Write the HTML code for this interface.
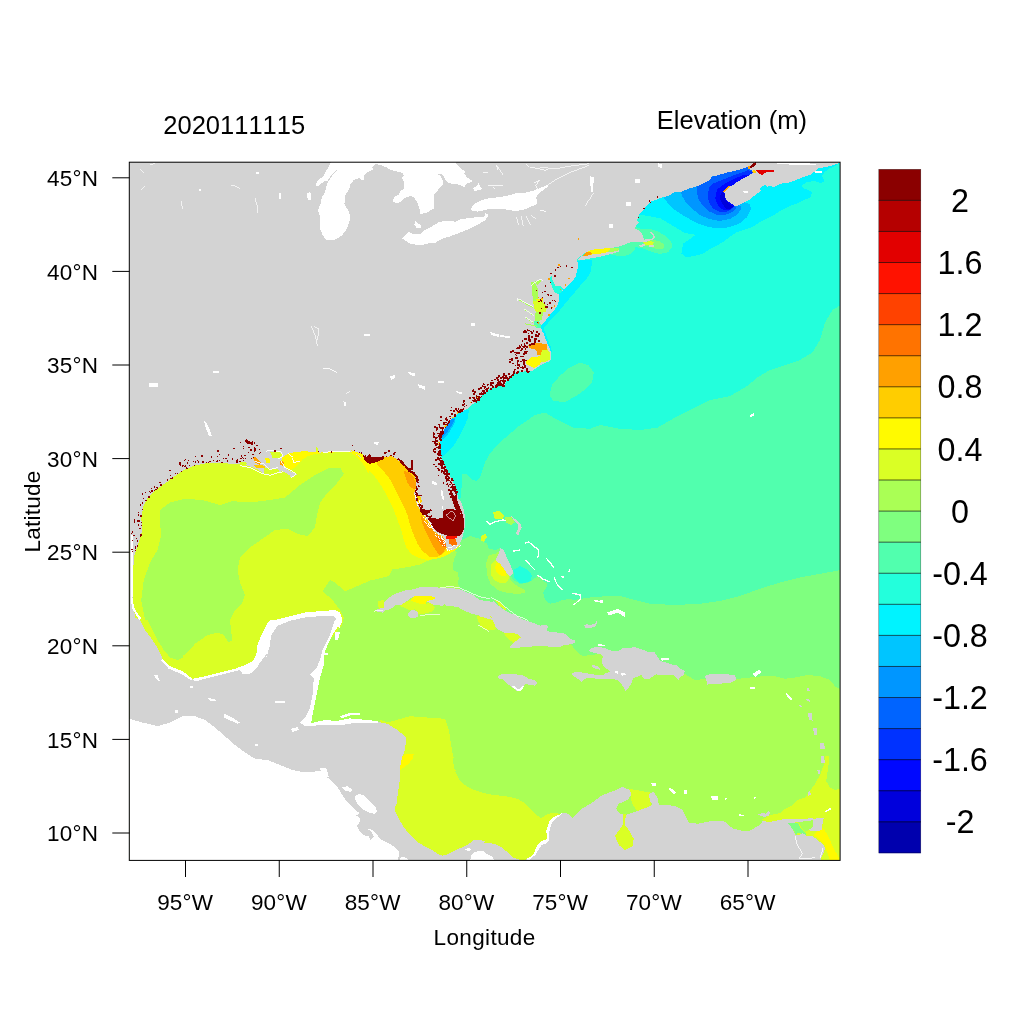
<!DOCTYPE html><html><head><meta charset="utf-8"><title>Elevation</title><style>html,body{margin:0;padding:0;background:#fff}svg{display:block}text{font-family:"Liberation Sans",Arial,sans-serif;fill:#000;font-kerning:none}</style></head><body>
<svg width="1024" height="1024" viewBox="0 0 1024 1024">
<rect width="1024" height="1024" fill="#fff"/>
<defs><clipPath id="c"><rect x="129.5" y="162" width="710.5" height="698"/></clipPath></defs>
<g clip-path="url(#c)" shape-rendering="crispEdges">
<rect x="129.5" y="162" width="710.5" height="698" fill="#23ffdc"/>
<path d="M458.0 500.0L460.6 498.0L462.0 482.0L462.5 473.8L466.0 474.0L471.0 479.0L476.2 481.2L480.0 477.5L482.5 470.0L485.0 462.5L488.8 455.0L495.0 447.5L502.5 440.0L510.0 433.8L518.8 426.2L528.0 420.0L535.0 415.0L545.0 412.5L557.5 420.0L572.5 427.5L590.0 428.8L600.0 425.0L620.0 428.8L640.0 430.0L657.5 427.5L675.0 417.5L695.0 407.5L710.0 400.0L730.0 396.0L745.0 387.5L757.5 377.5L770.0 370.0L785.0 365.0L800.0 360.0L812.5 352.5L820.0 340.0L825.0 322.5L832.5 310.0L841.0 305.0L841.0 861.0L400.0 861.0L400.0 500.0Z" fill="#51ffae" />
<path d="M455.0 540.0L462.0 540.0L470.0 536.0L480.0 538.8L487.0 543.8L488.8 548.8L495.6 550.0L500.0 548.0L506.0 560.0L511.2 576.2L513.0 580.0L520.0 583.8L527.5 583.0L532.5 580.0L537.5 576.2L542.5 580.0L547.5 583.8L546.2 587.5L543.0 592.5L545.0 600.0L550.0 603.8L556.2 602.5L562.5 600.0L570.0 598.8L573.8 600.0L581.2 598.8L590.0 597.5L598.0 597.0L605.0 596.0L620.0 596.0L635.0 600.0L650.0 603.8L675.0 605.0L700.0 603.8L720.0 601.0L740.0 596.0L760.0 588.8L780.0 582.5L800.0 577.5L820.0 573.8L841.0 570.0L841.0 861.0L400.0 861.0L400.0 560.0L450.0 552.0Z" fill="#7fff7f" />
<path d="M457.0 552.0L453.8 560.0L452.5 570.0L457.5 572.5L458.8 578.8L457.5 583.8L460.0 587.5L462.0 598.0L480.0 608.0L495.0 615.0L508.8 623.0L520.0 630.0L533.8 634.5L557.5 640.0L570.0 644.0L572.0 645.6L575.0 650.0L578.8 653.8L583.8 656.2L590.0 655.0L596.2 654.4L600.0 652.0L615.0 660.0L635.0 662.0L655.0 665.0L675.0 671.0L685.0 674.0L695.0 680.0L705.0 679.0L736.0 679.0L750.0 677.5L762.5 676.2L775.0 676.2L785.0 678.8L795.0 677.5L807.5 675.0L820.0 676.2L830.0 680.0L835.0 686.2L841.0 690.0L841.0 861.0L129.0 861.0L129.0 400.0L400.0 400.0L440.0 540.0Z" fill="#aaff55" />
<path d="M129.0 420.0L425.0 420.0L425.0 470.0L445.0 520.0L452.0 548.0L435.0 558.8L426.2 561.2L420.0 564.4L412.5 566.2L402.5 568.0L392.5 569.4L388.8 576.2L377.5 578.8L370.0 580.6L360.0 585.0L345.0 591.2L335.0 582.5L330.0 580.0L322.5 591.2L332.5 600.0L340.0 610.0L343.8 617.5L342.0 625.0L330.0 640.0L300.0 680.0L129.0 700.0Z" fill="#daff25" />
<path d="M160.0 510.0L170.0 502.5L185.0 498.8L202.5 500.0L220.0 505.0L232.5 501.2L250.0 502.5L270.0 500.0L285.0 497.5L300.0 485.0L315.0 475.0L330.0 467.5L340.0 467.5L343.8 473.8L337.5 482.5L327.5 492.5L320.0 502.5L317.5 512.5L315.0 527.5L307.5 536.2L297.5 533.8L287.5 528.8L275.0 530.0L262.5 538.8L250.0 547.5L240.0 557.5L237.5 570.0L240.0 582.5L245.0 595.0L242.5 602.5L235.0 610.0L230.0 620.0L231.2 632.5L232.5 640.0L228.8 642.5L223.8 635.0L217.5 632.5L207.5 635.0L195.0 643.8L187.5 652.5L182.5 656.0L182.5 657.5L177.5 660.0L170.0 657.5L163.8 650.0L157.5 640.0L152.5 630.0L147.5 620.0L145.0 620.0L141.2 600.0L143.8 580.0L150.0 562.5L157.5 550.0L161.2 535.0L160.0 522.5Z" fill="#aaff55" />
<path d="M387.5 722.5L410.0 716.2L427.5 717.5L445.0 718.8L448.8 730.0L451.2 745.0L453.8 760.0L456.2 775.0L452.5 750.0L453.1 762.5L455.0 771.2L458.8 778.8L463.8 784.4L471.2 788.8L480.0 791.9L490.0 794.4L500.0 795.6L510.0 796.9L517.5 798.8L525.0 803.1L531.2 809.4L536.2 815.0L541.2 818.1L546.2 815.0L552.5 812.5L560.0 813.8L565.0 820.0L552.5 850.0L527.5 875.0L440.0 875.0L380.0 870.0L380.0 720.0Z" fill="#daff25" />
<path d="M405.0 754.4L413.8 754.4L412.5 758.8L408.8 763.8L403.8 767.5L398.8 771.2L398.8 763.8L401.2 757.5Z" fill="#fffa00" />
<path d="M761.2 820.0L770.0 815.0L780.0 813.1L785.0 808.8L792.5 805.0L797.5 800.0L805.0 797.5L810.0 791.2L815.0 783.8L820.0 775.0L823.8 765.0L825.0 756.2L828.8 755.6L828.8 762.5L827.5 772.5L826.2 781.2L830.0 787.5L835.0 790.0L841.2 788.1L841.2 862.5L795.0 862.5L795.0 820.0L772.5 823.8Z" fill="#daff25" />
<path d="M813.8 835.0L817.5 831.2L822.5 827.5L826.2 832.5L830.0 840.0L833.8 848.8L837.5 855.0L840.0 860.6L830.0 860.6L828.8 856.2L826.2 850.0L824.4 845.0L818.8 839.4Z" fill="#fffa00" />
<path d="M788.1 823.1L797.5 822.5L800.0 827.5L805.0 832.5L806.9 835.6L802.5 833.8L798.1 832.5L796.2 835.0L793.8 830.0L790.0 826.2Z" fill="#7fff7f" />
<path d="M798.1 821.9L813.1 819.4L813.1 823.1L812.5 828.1L807.5 830.6L805.0 831.9L801.2 827.5Z" fill="#aaff55" />
<path d="M628.8 788.8L650.0 792.5L651.2 806.2L637.5 811.2L632.5 805.0ZM623.8 823.8L628.8 830.0L633.8 838.8L632.5 846.2L625.0 850.0L618.8 845.0L615.0 836.2L620.0 828.8ZM623.0 812.5L626.0 812.5L625.0 825.0L623.0 825.0Z" fill="#daff25" />
<path d="M617.5 803.8L628.8 798.8L633.8 806.2L636.2 813.8L625.0 816.2L617.5 812.5Z" fill="#aaff55" />
<path d="M350.0 451.9L357.5 457.5L363.8 465.0L370.0 471.2L377.5 480.0L383.8 490.0L388.8 500.0L393.8 510.0L397.5 520.0L401.2 530.0L403.8 540.0L406.2 547.5L411.2 553.8L418.8 558.1L427.5 560.0L436.2 558.8L445.0 556.2L453.8 551.2L460.0 546.2L460.0 527.5L437.5 502.5L412.5 465.0L387.5 452.5L350.0 447.5Z" fill="#fffa00" />
<path d="M376.9 464.4L382.5 470.0L388.8 477.5L393.8 486.2L398.8 496.2L403.8 506.2L407.5 515.0L410.0 525.0L413.8 535.0L417.5 543.8L422.5 551.2L430.0 556.9L437.5 556.9L442.5 554.4L446.9 548.8L446.9 527.5L425.0 502.5L412.5 471.2L391.2 455.0L376.9 458.8Z" fill="#ffcd00" />
<path d="M403.8 470.6L408.8 472.5L413.1 476.2L415.6 482.5L415.6 489.4L411.2 488.1L407.5 482.5L405.0 476.2ZM420.6 515.0L425.0 520.0L431.2 527.5L436.2 533.8L442.5 536.9L445.6 541.2L446.9 546.9L443.1 552.5L440.0 555.6L437.5 552.5L432.5 545.0L428.8 537.5L425.0 530.0L421.9 522.5Z" fill="#ffa000" />
<path d="M435.0 535.0L442.5 538.8L445.6 543.8L445.6 547.5L442.5 546.2L438.8 541.2Z" fill="#ff7300" />
<path d="M368.8 473.8L366.2 470.0L363.8 462.5L360.0 457.5L355.0 453.5L347.5 452.2L340.0 452.0L330.0 452.8L320.0 453.5L313.8 454.4L307.5 456.5L302.5 459.4L298.8 463.8L295.0 467.5L290.0 470.2L285.0 467.8L281.2 462.5L282.5 457.2L287.5 453.5L295.0 451.5L305.0 450.8L320.0 451.2L340.0 450.0L352.5 450.0L368.8 457.5Z" fill="#fffa00" />
<path d="M837.0 164.8L829.5 168.5L824.5 172.2L822.0 176.0L824.5 181.0L820.8 182.9L814.5 181.0L807.0 182.2L800.8 186.0L804.5 188.5L812.0 192.2L810.8 197.2L804.5 199.8L797.0 203.5L789.5 206.0L782.0 209.8L774.5 214.8L767.0 218.5L759.5 222.2L752.0 227.2L744.5 229.8L737.0 232.2L730.8 236.0L724.5 241.0L718.2 244.8L712.0 247.9L703.2 253.5L694.5 256.0L685.8 257.2L681.4 253.5L683.2 243.5L687.0 241.0L695.8 234.8L684.5 232.9L673.2 226.0L660.8 218.5L648.2 216.0L639.5 214.8L635.8 216.0L630.0 200.0L660.0 180.0L700.0 165.0L760.0 158.0L845.0 158.0Z" fill="#00f3ff" />
<path d="M663.9 197.9L668.2 203.5L674.5 209.8L682.0 214.8L690.8 219.8L699.5 224.1L709.5 227.2L719.5 228.5L729.5 227.2L739.5 223.5L747.0 217.2L750.8 209.8L750.1 204.1L744.5 202.2L750.8 193.5L757.0 174.8L749.5 167.2L732.0 168.5L694.5 181.0L663.9 193.5Z" fill="#00c5ff" />
<path d="M680.8 192.2L682.0 196.0L685.8 202.2L692.0 208.5L699.5 214.8L709.5 219.1L719.5 221.0L729.5 219.1L737.0 214.8L740.8 209.8L740.8 206.0L738.2 205.4L744.5 193.5L757.0 174.8L749.5 167.2L732.0 168.5L694.5 181.0L680.8 189.8Z" fill="#0096ff" />
<path d="M697.0 186.0L697.0 192.2L698.2 198.5L702.0 204.8L708.2 211.0L717.0 214.8L725.8 214.8L733.2 211.6L735.8 208.5L735.1 206.0L744.5 193.5L757.0 174.8L749.5 167.2L732.0 168.5L697.0 183.5Z" fill="#0064ff" />
<path d="M748.2 170.0L744.5 171.6L732.0 176.0L719.5 181.0L713.2 183.5L709.5 187.2L707.6 194.8L708.9 202.2L713.2 208.5L719.5 211.6L727.0 211.6L732.0 209.1L733.9 206.6L744.5 193.5L757.0 174.8L750.8 171.0Z" fill="#0032ff" />
<path d="M744.5 174.5L732.0 179.8L722.0 185.4L717.0 189.8L715.1 198.5L718.2 206.0L723.2 209.8L729.5 209.8L733.2 207.2L744.5 193.5L757.0 174.8Z" fill="#0008ff" />
<path d="M722.0 192.2L719.5 197.2L722.0 203.5L725.8 208.5L730.8 209.1L733.2 206.6L729.5 204.1L725.1 199.1L724.5 193.5Z" fill="#0000dc" />
<path d="M611.0 254.4L616.0 255.6L623.5 256.5L629.8 254.4L634.8 250.0L634.5 247.2L642.0 247.9L650.8 251.6L659.5 254.0L668.2 252.2L672.0 247.2L671.4 242.2L665.8 236.0L657.0 231.0L648.2 228.5L641.4 229.0L630.0 225.0L600.0 235.0L590.0 245.0L600.0 252.0Z" fill="#51ffae" />
<path d="M643.2 241.0L652.0 239.8L659.5 241.0L664.5 244.8L663.2 248.5L657.0 249.1L650.8 247.2L644.5 245.4Z" fill="#7fff7f" />
<path d="M643.2 242.2L650.8 241.0L653.9 242.2L652.6 244.8L645.8 245.4Z" fill="#daff25" />
<path d="M591.0 248.8L606.0 247.5L611.0 248.8L607.2 252.2L598.5 254.0L591.0 254.8L586.0 253.5Z" fill="#fffa00" />
<path d="M582.5 255.4L586.0 252.5L591.0 251.5L592.2 254.0L586.0 256.0Z" fill="#ffa000" />
<path d="M606.0 247.5L618.5 247.5L619.5 250.2L611.0 252.2L607.2 252.2L611.0 248.8Z" fill="#aaff55" />
<path d="M577.2 260.6L592.2 260.0L591.0 271.2L586.0 280.0L579.8 286.2L573.5 293.8L567.2 301.2L561.0 308.8L554.8 316.2L548.5 322.5L543.5 327.5L544.8 333.8L547.2 340.0L549.8 346.2L551.6 353.1L550.4 355.0L547.9 347.5L544.8 340.0L542.2 333.8L539.8 328.8L536.0 317.5L548.5 292.5L567.2 280.0L573.5 267.5ZM541.4 328.8L543.9 328.8L547.0 337.5L550.1 345.0L552.0 351.2L550.8 353.1L548.2 347.5L545.8 341.2L543.2 335.0Z" fill="#00f3ff" />
<path d="M561.4 292.2L563.0 288.8L561.0 286.0L558.2 285.6L555.8 286.2L553.9 283.1L552.6 280.0L551.8 276.2L549.8 276.9L550.1 281.2L552.0 286.2L553.2 290.0L555.5 292.8L558.5 294.0Z" fill="#23ffdc" />
<path d="M468.8 410.0L468.1 417.5L465.0 425.0L460.0 435.0L455.0 443.8L448.8 451.2L442.5 456.9L440.6 455.0L437.5 447.5L437.5 441.2L441.2 432.5L447.5 422.5L455.0 415.0L463.8 410.0Z" fill="#00f3ff" />
<path d="M455.6 417.5L455.0 422.5L451.2 428.8L447.5 435.0L442.5 439.4L440.0 439.4L440.0 435.0L443.1 428.8L446.9 423.1L451.9 418.5Z" fill="#00c5ff" />
<path d="M455.0 418.5L453.1 423.1L449.4 428.8L445.6 434.4L441.9 438.1L440.2 438.1L440.6 435.0L443.8 428.8L447.5 423.1L452.2 418.8Z" fill="#0096ff" />
<path d="M549.5 395.0L552.0 385.0L559.5 376.2L569.5 367.5L579.5 362.5L588.2 365.0L593.9 372.5L592.0 382.5L584.5 390.0L575.8 396.2L565.0 402.0L553.0 401.0Z" fill="#51ffae" />
<path d="M495.6 553.8L488.8 555.0L486.2 562.5L486.9 575.0L490.6 583.8L497.5 590.0L507.5 593.1L517.5 593.8L525.0 593.1L525.6 590.0L520.0 587.5L513.8 583.8L510.0 579.4L510.0 570.0L505.0 556.2L500.6 550.0Z" fill="#aaff55" />
<path d="M495.0 560.0L490.6 565.0L490.6 573.8L493.8 580.0L500.0 583.1L506.2 582.5L509.4 578.1L509.4 570.0L503.8 560.0Z" fill="#daff25" />
<path d="M496.2 562.5L500.0 563.8L503.1 567.5L506.2 572.5L506.2 575.6L501.2 575.6L496.9 573.1L495.0 568.1Z" fill="#fffa00" />
<path d="M513.1 570.0L520.0 566.2L527.5 570.0L531.9 575.0L530.6 580.6L525.0 583.1L518.8 582.5L514.4 577.5Z" fill="#23ffdc" />
<path d="M493.1 512.5L498.8 510.6L503.8 515.0L503.1 518.8L495.0 519.4ZM480.6 536.2L485.6 533.8L486.9 537.5L483.8 541.9L480.6 540.0Z" fill="#daff25" />
<path d="M505.0 517.5L511.2 516.9L515.0 522.5L511.2 525.0L506.2 522.5Z" fill="#aaff55" />
<path d="M415.0 595.0L422.5 595.0L430.0 595.6L435.0 596.5L435.6 599.0L431.2 600.2L426.9 601.5L425.0 604.4L420.0 603.8L413.8 601.9L410.0 600.0Z" fill="#fffa00" />
<path d="M399.4 605.6L405.0 602.5L410.0 600.0L413.8 601.9L420.0 603.8L425.0 604.4L428.8 602.5L432.5 604.4L435.0 607.5L432.5 611.2L427.5 613.1L422.5 613.8L418.1 613.8L415.0 609.4L408.8 610.0L403.8 607.5ZM377.5 601.2L384.4 600.0L384.8 607.5L378.8 608.8ZM476.2 615.6L482.5 616.5L490.0 616.0L493.1 620.6L495.0 626.2L496.2 629.4L490.0 629.8L483.8 627.5L478.8 622.5ZM480.0 616.0L488.8 615.0L492.2 617.2L494.0 622.5L496.0 627.8L492.5 629.6L486.2 629.6L480.0 626.5ZM502.9 632.5L511.2 632.8L517.5 633.5L521.0 637.5L517.5 640.2L513.1 642.8L510.0 640.2L506.2 636.5ZM495.0 600.0L500.0 601.9L506.9 609.4L504.4 610.0L498.8 605.0Z" fill="#daff25" />
<path d="M129.0 161.0L841.0 161.0L841.0 163.5L838.9 163.2L828.2 166.6L818.2 168.5L814.5 171.6L810.8 174.8L804.5 176.6L798.2 179.1L792.0 181.6L787.0 182.9L782.0 183.5L777.0 185.4L773.2 187.2L770.8 186.0L767.0 186.6L765.8 184.8L762.0 186.0L760.1 189.1L760.8 191.0L757.0 193.5L753.2 196.6L749.5 199.8L744.5 202.2L738.9 205.4L735.1 206.0L732.0 204.1L728.2 201.6L725.1 197.9L724.5 193.5L722.6 191.6L729.5 186.0L730.8 186.6L735.8 182.9L742.0 179.1L748.2 176.0L752.0 173.5L753.2 171.6L750.1 169.5L748.9 167.0L744.5 167.9L737.0 170.4L728.2 172.2L719.5 174.8L712.0 176.6L709.5 180.4L704.5 182.9L699.5 185.4L694.5 187.2L689.5 188.5L684.5 190.4L680.8 192.2L677.0 191.6L673.9 192.2L670.8 194.8L665.8 196.6L660.8 197.9L655.8 199.8L650.8 201.6L647.6 204.8L644.5 208.5L641.4 212.2L638.2 216.0L637.0 221.0L639.5 222.2L635.8 226.0L635.1 228.5L639.5 231.0L642.0 234.1L643.2 237.2L644.5 239.5L650.8 238.8L653.0 237.9L653.0 235.8L650.8 233.5L649.5 232.0L652.0 232.5L654.2 234.8L654.8 237.9L652.6 240.0L648.2 241.0L644.5 242.2L642.2 241.9L636.0 242.5L631.0 241.9L627.2 243.5L623.5 245.2L617.2 246.9L611.0 248.1L603.5 248.5L596.0 248.8L589.8 250.6L585.4 252.8L582.2 255.0L578.5 258.1L576.6 260.6L578.5 263.8L577.9 267.5L576.6 272.5L576.0 276.2L573.5 280.0L569.8 283.8L566.6 286.9L563.5 289.4L561.6 291.9L561.4 292.2L563.0 288.8L561.0 286.0L558.2 285.6L555.8 286.2L553.9 283.1L552.6 280.0L551.8 276.2L549.8 276.9L550.1 281.2L552.0 286.2L553.2 290.0L555.5 292.8L558.5 294.0L558.9 298.8L558.2 303.8L555.8 308.1L552.0 312.5L548.2 316.9L545.1 321.2L542.0 324.4L540.5 327.8L541.4 329.0L542.6 332.5L544.5 337.5L546.4 342.5L548.9 347.5L550.8 352.5L551.0 357.5L549.8 360.6L544.5 362.8L539.5 365.2L534.5 368.8L532.0 371.0L527.0 370.6L520.8 372.5L520.0 371.2L512.5 375.0L506.2 381.2L504.4 385.6L498.8 386.2L491.2 388.1L485.0 392.5L481.2 396.9L477.5 401.2L472.5 404.4L468.8 408.1L463.8 410.6L458.8 413.1L455.0 415.6L451.2 419.4L447.5 423.8L444.4 428.8L441.9 435.0L440.0 441.2L439.8 447.5L440.6 455.0L442.5 461.2L445.0 467.5L448.8 473.8L452.5 480.0L455.0 486.2L456.9 492.5L458.1 498.0L461.2 502.5L463.8 510.0L465.0 517.5L465.0 525.0L463.8 532.5L461.9 538.8L460.0 543.8L457.5 547.5L452.5 550.0L447.5 550.6L446.2 546.2L445.0 540.0L442.5 536.2L437.5 533.8L433.8 531.2L431.2 526.2L427.5 520.0L423.8 515.0L420.0 510.0L417.5 505.0L415.0 498.8L414.4 492.5L415.6 488.8L416.2 482.5L415.0 476.2L412.5 472.5L408.8 470.0L405.0 465.0L400.0 461.9L396.2 458.8L391.2 456.2L383.8 457.5L380.0 460.6L375.0 462.5L370.0 463.8L366.9 462.5L365.0 458.8L362.5 453.8L357.5 452.5L350.0 450.0L368.0 463.1L363.8 460.0L360.0 456.2L356.2 453.8L352.5 452.2L347.5 451.2L340.0 451.0L332.5 451.2L330.0 450.6L327.5 451.5L322.5 452.2L320.0 452.8L318.1 451.9L316.9 444.4L315.6 451.9L312.5 451.9L305.0 451.2L295.0 451.9L287.5 453.8L282.5 457.5L281.2 461.2L283.8 466.2L287.5 470.0L292.5 472.5L296.9 474.4L291.2 478.1L289.4 475.0L282.5 471.2L277.5 472.5L270.0 475.0L263.8 473.8L258.8 470.0L252.5 467.5L245.0 465.0L240.0 462.5L240.0 464.5L230.0 463.8L220.0 462.5L207.5 463.0L195.0 465.5L186.2 468.8L176.2 475.0L166.2 482.5L157.5 488.8L148.8 496.2L143.8 505.0L141.2 517.5L142.5 530.0L138.8 542.5L134.5 555.0L132.5 575.0L132.5 597.5L135.0 617.5L140.0 620.0L145.0 630.0L152.5 640.0L158.8 650.0L162.5 658.8L170.0 666.2L182.5 671.2L192.5 678.8L205.0 676.2L220.0 672.5L235.0 668.8L245.0 665.0L252.5 661.2L256.2 655.0L257.5 645.0L262.5 632.5L267.5 622.5L270.0 620.0L275.0 620.0L290.0 616.2L305.0 612.5L320.0 611.2L335.0 610.0L340.0 612.5L342.5 620.0L340.0 620.0L337.5 627.5L332.5 635.0L327.5 645.0L323.8 655.0L323.8 665.0L320.0 677.5L317.5 690.0L315.0 702.5L312.5 715.0L311.2 722.5L320.0 723.8L335.0 721.2L350.0 720.0L370.0 721.2L376.0 721.2L375.0 721.2L387.5 723.8L397.5 730.0L406.2 737.5L405.0 750.0L402.5 756.2L400.6 763.8L400.2 771.2L400.0 778.8L398.8 787.5L397.5 796.2L396.9 803.8L394.4 808.1L396.2 813.8L400.0 821.2L405.0 828.8L411.2 836.2L417.5 841.9L422.5 845.0L427.5 848.1L432.5 850.0L437.5 853.8L442.5 855.6L446.2 855.0L452.5 851.9L458.8 848.8L465.0 846.2L470.0 843.1L473.8 840.2L480.0 840.2L485.0 841.2L483.8 843.1L490.0 843.1L496.2 844.4L501.2 846.9L506.2 851.2L510.0 855.0L513.1 857.8L517.5 858.8L521.2 860.6L526.2 860.6L526.2 858.8L531.2 856.2L534.4 852.5L536.2 847.5L538.8 843.1L542.5 840.6L547.5 838.8L546.2 831.2L548.1 825.0L550.0 820.0L553.8 816.9L558.8 815.0L563.1 812.5L568.0 813.8L572.5 817.5L580.0 810.0L592.5 802.5L602.5 795.0L616.0 790.0L622.5 787.0L630.0 790.0L631.2 795.0L627.5 800.0L618.8 803.8L616.2 808.8L620.0 813.8L625.0 815.0L632.5 812.5L640.0 810.0L650.0 806.2L652.5 805.0L650.0 801.2L648.8 793.8L653.8 792.0L657.5 797.5L658.8 805.0L667.5 805.0L675.0 806.2L682.5 810.0L686.2 817.5L688.8 822.5L697.5 823.8L710.0 821.2L720.0 820.6L725.6 821.9L728.8 825.6L733.8 828.8L741.2 830.6L748.8 831.2L753.1 828.8L757.5 826.2L761.2 823.8L762.5 821.2L770.0 821.9L776.2 820.6L782.5 819.4L788.1 823.1L791.9 828.1L795.6 835.0L798.8 835.0L802.5 833.1L807.5 836.2L812.5 836.2L817.5 840.0L822.5 843.8L825.0 847.5L823.8 852.5L821.9 856.2L820.0 861.2L129.0 861.0Z" fill="#d3d3d3" />
<path d="M577.9 260.0L579.1 258.1L582.9 255.4L586.0 256.0L592.2 254.4L598.5 254.0L607.2 252.2L611.0 252.2L619.1 250.2L619.5 251.2L611.0 254.0L598.5 257.0L588.5 258.8L582.2 260.0ZM638.9 245.0L644.5 244.1L645.8 246.0L640.8 247.0ZM648.9 245.4L653.9 245.0L654.2 247.0L649.5 247.2ZM374.4 610.6L378.8 608.8L383.8 607.5L384.4 602.5L387.5 598.8L392.5 595.0L398.8 592.5L406.2 590.0L413.8 589.4L421.2 586.9L428.8 586.5L436.2 587.2L440.0 588.1L446.2 587.5L452.5 588.1L460.0 589.4L467.5 592.5L473.8 595.6L480.0 600.0L486.2 601.2L493.8 601.9L492.5 600.6L496.2 603.8L502.5 608.8L508.8 612.5L516.2 615.6L521.2 618.8L527.5 621.2L533.8 623.1L540.0 625.6L546.2 625.0L548.8 626.9L546.2 630.0L550.0 631.9L557.5 632.5L563.8 633.1L567.5 635.6L571.2 639.4L575.6 640.6L575.0 643.1L570.0 644.4L563.8 645.0L558.8 647.5L555.0 646.9L550.0 646.9L542.5 645.6L535.0 646.2L527.5 646.9L520.0 647.5L513.8 648.1L509.4 648.5L510.6 645.6L513.8 642.5L517.5 640.0L520.6 637.5L517.5 633.8L511.2 633.1L503.8 632.5L498.8 630.0L495.6 627.5L493.8 622.5L491.9 617.5L488.8 615.6L480.0 616.5L493.1 620.0L490.0 615.6L482.5 616.2L476.2 615.0L470.0 613.1L463.8 610.6L458.8 607.5L452.5 606.2L446.2 605.6L444.4 603.8L442.5 606.2L437.5 605.0L432.5 604.4L428.8 602.5L426.9 601.2L431.2 600.0L435.0 598.8L434.4 596.9L430.0 596.2L422.5 595.6L415.0 595.6L410.0 598.8L405.0 602.5L401.2 605.0L395.0 605.0L392.5 607.5L390.0 609.4L385.0 610.0L382.5 612.5L377.5 611.9ZM408.8 612.5L410.6 610.6L413.8 609.8L416.9 611.2L418.5 614.4L417.5 616.9L413.8 618.5L410.0 617.5L407.5 615.6ZM496.9 676.9L501.2 674.4L507.5 673.5L516.2 674.4L523.8 675.6L528.8 678.8L535.0 680.0L537.5 683.1L535.0 685.6L530.0 685.0L526.2 683.8L523.8 686.2L520.6 690.6L516.9 691.0L512.5 687.5L507.5 683.8L502.5 679.4L498.8 678.8ZM589.1 650.0L592.2 647.8L598.5 646.9L604.8 648.1L611.0 650.6L617.2 651.2L621.0 649.4L623.5 647.8L629.8 648.1L634.8 646.9L639.8 648.8L644.8 650.6L649.8 652.5L654.1 651.9L657.2 656.2L660.4 661.2L666.0 662.5L671.0 664.4L676.0 665.0L679.8 668.1L684.8 671.2L683.5 675.0L679.8 676.9L679.1 680.0L676.0 678.1L674.8 675.6L669.8 675.0L663.5 675.0L656.0 674.4L652.2 676.9L648.5 679.4L644.1 679.4L641.6 675.0L637.2 676.9L633.5 678.1L631.0 683.8L627.9 688.8L625.4 691.2L624.1 687.5L621.0 683.8L617.2 680.0L612.2 678.8L604.8 679.4L597.2 678.8L589.8 677.8L584.8 678.8L581.6 682.5L578.5 679.4L576.0 677.5L572.2 675.0L572.2 673.1L576.0 671.9L582.2 672.5L589.8 673.8L597.2 675.0L602.9 675.0L605.4 673.1L609.8 671.9L609.1 670.0L605.4 668.1L602.9 665.0L601.6 661.2L602.9 656.9L600.4 654.4L594.8 652.8L589.8 651.9ZM592.2 665.2L596.0 665.6L600.4 668.1L599.8 669.8L595.4 668.5L592.2 666.9ZM584.1 625.6L586.6 624.4L591.0 624.8L594.8 623.8L596.6 620.6L597.2 622.5L595.4 626.2L591.0 628.1L586.0 628.5ZM705.0 676.2L710.0 673.8L725.0 673.8L735.0 675.5L736.2 680.0L730.0 683.0L717.5 683.8L707.5 684.5L706.2 680.0ZM500.6 548.1L503.8 550.0L506.2 556.2L510.0 563.8L512.5 570.0L512.5 574.4L509.4 576.2L506.2 572.5L503.1 567.5L500.0 563.8L495.6 560.0L498.1 555.0ZM511.2 516.2L516.2 520.0L520.0 523.1L521.9 527.5L519.4 532.5L518.1 535.6L515.6 533.1L518.1 528.8L517.5 524.4L513.8 520.6ZM813.1 818.8L823.8 817.5L822.5 823.8L821.9 830.0L817.5 831.2L812.5 831.2L807.5 830.0L812.5 827.5L813.1 822.5ZM758.1 814.4L762.5 813.1L766.2 813.8L768.1 811.2L770.0 812.5L768.8 815.6L765.0 816.9L760.0 815.6ZM806.2 687.5L808.8 688.0L809.8 691.0L807.2 690.5ZM806.2 698.8L809.2 699.2L810.2 701.8L807.2 701.2ZM799.2 705.0L801.2 705.5L802.2 707.5L800.2 707.0ZM808.0 713.0L811.5 713.5L812.5 720.5L809.0 720.0ZM813.0 727.5L816.5 728.0L817.5 735.0L814.0 734.5ZM819.5 742.5L824.0 743.0L825.0 749.5L820.5 749.0ZM821.0 756.2L824.0 756.8L825.0 763.2L822.0 762.8ZM817.0 769.5L819.5 770.0L820.5 774.0L818.0 773.5ZM820.6 756.9L823.8 756.0L824.4 762.5L821.5 763.1ZM817.5 770.6L819.8 770.6L819.8 773.8L817.5 773.8ZM807.8 791.9L810.2 791.0L810.9 795.0L808.1 795.8Z" fill="#d3d3d3" />
<path d="M127.5 718.8L129.5 718.8L142.5 722.5L157.5 726.2L170.0 722.5L182.5 716.2L195.0 716.2L205.0 720.0L215.0 727.5L225.0 736.2L235.0 745.0L245.0 752.5L255.0 758.8L267.5 760.0L280.0 765.0L292.5 770.0L305.0 772.5L317.5 771.2L325.0 770.0L327.5 777.5L337.5 787.5L340.0 791.2L343.8 797.5L348.8 803.8L355.0 810.0L360.0 813.1L356.2 815.6L360.0 818.1L359.4 822.5L356.9 826.2L359.4 831.2L363.1 835.0L368.8 836.2L370.6 840.0L373.8 836.2L371.9 832.5L367.5 828.8L371.2 829.4L376.2 833.1L379.4 838.1L383.8 841.2L390.0 843.8L395.0 847.5L399.4 852.5L398.8 856.2L396.9 861.2L120.0 870.0L120.0 715.0ZM400.0 861.2L400.6 857.2L403.8 856.5L407.5 858.8L408.1 861.2ZM470.0 861.2L471.2 855.6L475.0 851.9L480.0 850.6L483.8 851.2L487.5 854.4L492.5 856.9L495.0 861.2ZM355.0 796.2L358.8 793.8L363.8 795.6L370.0 801.2L375.6 807.5L377.2 811.2L375.0 813.8L370.0 813.1L363.8 810.0L358.8 805.6L355.6 800.6ZM342.5 787.5L347.5 786.2L351.9 789.4L351.2 791.9L347.5 791.2L343.8 790.0ZM465.0 849.4L468.8 847.5L471.2 850.0L468.1 851.5ZM526.2 858.8L531.2 856.2L534.4 852.5L536.2 847.5L538.8 843.1L542.5 840.6L547.5 838.8L546.2 831.2L548.1 825.0L550.0 820.0L553.8 816.9L558.8 815.0L563.1 812.5L560.0 815.9L555.0 819.0L552.1 822.8L550.2 827.8L548.5 835.0L549.6 840.2L546.2 843.4L541.5 845.2L539.0 849.0L535.2 855.2L528.1 860.6ZM192.5 678.8L205.0 676.2L220.0 672.5L235.0 668.8L245.0 665.0L252.5 661.2L256.2 655.0L257.5 645.0L262.5 632.5L267.5 622.5L270.0 620.0L275.0 620.0L290.0 616.2L305.0 612.5L320.0 611.2L335.0 610.0L340.0 612.5L342.5 620.0L338.8 630.0L338.0 622.5L334.5 616.5L320.0 616.2L305.0 617.5L290.0 620.8L277.5 625.8L271.2 635.0L269.5 647.5L266.2 657.5L270.0 640.0L267.5 652.5L260.0 662.5L256.2 668.8L250.0 673.8L242.5 673.8L240.0 670.0L225.0 673.8L207.5 678.0L195.0 681.5ZM340.0 620.0L337.5 627.5L332.5 635.0L327.5 645.0L323.8 655.0L323.8 665.0L320.0 677.5L317.5 690.0L315.0 702.5L312.5 715.0L311.2 722.5L320.0 723.8L335.0 721.2L350.0 720.0L370.0 721.2L376.0 723.0L360.0 723.0L345.0 722.0L332.5 724.5L315.0 725.5L303.8 725.5L300.0 722.5L305.0 717.5L310.0 707.5L312.5 695.0L313.8 678.8L310.0 675.0L316.2 668.8L320.0 660.0L322.5 650.0L330.0 635.0L335.0 620.0ZM162.5 658.8L170.0 666.2L182.5 671.2L192.5 678.8L192.0 680.8L181.2 673.8L168.8 668.8L160.8 660.5ZM131.5 535.0L133.4 535.0L133.0 560.0L132.8 585.0L132.5 597.5L134.0 607.5L137.8 613.8L141.5 618.8L139.6 620.0L135.9 615.0L131.8 607.5L130.9 597.5L131.2 560.0ZM331.9 161.0L326.9 169.8L323.1 176.6L318.8 179.1L315.6 184.1L316.9 186.6L320.6 184.1L325.0 181.0L328.1 181.0L325.6 189.1L325.0 192.2L321.9 197.2L320.6 203.5L318.1 210.4L320.0 217.2L320.0 229.1L323.1 236.0L326.9 240.4L331.2 240.4L336.2 239.1L341.9 235.4L346.2 229.8L349.4 222.2L350.0 216.0L348.8 211.0L346.2 207.9L344.4 203.5L345.6 199.1L345.0 196.0L347.5 191.6L349.4 189.1L350.0 184.1L352.5 182.2L353.8 179.8L360.0 177.9L361.2 180.4L363.8 179.8L364.4 174.8L366.2 172.9L370.0 171.0L373.8 169.1L371.9 167.2L375.0 164.1L380.0 164.8L386.2 167.2L390.0 169.8L395.0 171.0L402.5 172.9L403.8 176.0L401.9 177.9L403.8 181.0L403.8 188.5L400.0 191.6L398.8 194.8L394.4 196.6L392.5 201.0L396.9 203.5L401.2 201.6L405.0 197.9L410.6 196.0L414.4 197.9L417.5 202.9L419.4 208.5L420.6 214.1L426.2 212.9L433.8 208.5L434.4 194.1L438.8 189.1L443.1 184.1L442.5 179.8L440.0 175.4L436.2 173.5L441.9 173.5L445.0 179.1L448.8 182.9L452.5 184.1L457.5 184.1L464.4 187.2L466.9 182.9L472.5 182.2L471.9 180.4L467.5 177.9L464.4 174.1L465.0 171.0L461.2 169.1L457.5 165.4L455.0 161.0ZM415.0 221.0L418.1 224.1L421.2 224.8L420.6 227.9L416.9 228.5L414.4 224.8ZM401.9 238.5L408.8 232.2L412.5 233.5L418.1 233.5L420.0 234.8L425.0 229.8L432.5 226.0L438.8 222.2L445.0 221.0L456.2 221.6L461.2 219.1L470.0 217.9L477.5 217.2L483.8 216.6L485.6 214.1L483.8 212.9L487.5 214.1L487.5 217.2L485.0 220.4L478.8 224.1L470.0 228.5L461.2 232.2L451.2 236.0L441.2 239.1L435.0 242.9L427.5 243.5L420.0 245.4L420.0 245.4L410.0 243.5ZM470.6 209.1L472.5 206.0L476.2 202.9L482.5 199.8L491.2 197.9L500.0 197.2L508.8 195.4L515.0 193.5L523.8 192.9L532.5 191.0L540.0 187.9L548.0 184.8L548.0 186.6L538.8 193.5L536.2 197.2L537.5 203.5L532.5 206.0L523.8 209.8L515.0 211.0L507.5 209.8L500.0 208.5L491.2 208.5L483.8 210.4L477.5 211.6L472.5 211.0ZM473.1 187.9L476.9 186.0L478.8 182.9L480.0 186.6L481.9 187.9L481.2 189.8L476.9 190.4L475.0 191.6ZM306.9 193.5L309.4 192.2L311.0 194.8L310.0 198.5L308.1 199.8L306.9 196.6Z" fill="#ffffff" />
<path d="M533.9 321.2L538.2 320.0L541.0 325.0L540.5 328.1L537.0 328.5L534.5 326.2Z" fill="#51ffae" />
<path d="M535.8 311.2L543.2 311.2L542.0 320.0L538.2 321.2L534.5 321.2ZM531.4 282.5L534.5 281.9L538.2 288.8L537.6 301.2L533.2 301.2L532.0 292.5ZM534.5 281.9L540.1 279.4L541.4 280.6L537.6 285.0Z" fill="#aaff55" />
<path d="M533.2 301.2L542.0 300.6L547.0 307.5L545.8 311.9L543.2 312.5L535.8 311.9L533.9 307.5Z" fill="#daff25" />
<path d="M536.4 299.4L543.2 299.0L543.5 301.2L537.0 301.5Z" fill="#fffa00" />
<path d="M528.2 345.0L537.0 343.1L546.4 343.8L547.6 349.4L542.0 350.6L541.4 355.0L537.0 355.0L536.4 350.0L529.5 348.1Z" fill="#ffa000" />
<path d="M542.0 350.6L547.6 349.4L550.1 353.1L550.5 358.1L549.2 360.2L544.5 362.2L540.8 361.9L540.1 356.2Z" fill="#daff25" />
<path d="M530.8 357.5L540.1 356.2L540.8 361.9L539.5 364.8L534.5 368.1L530.8 366.2L527.0 365.0L525.8 361.9Z" fill="#fffa00" />
<path d="M755.1 170.0L762.0 169.5L773.9 170.0L773.9 171.6L767.0 172.2L762.0 174.8L759.5 173.5Z" fill="#e20000" />
<path d="M751.8 170.8L755.1 170.0L756.0 172.9L753.2 173.5Z" fill="#ffcd00" />
<path d="M749.5 167.0L753.2 163.5L755.8 162.0L756.4 163.5L753.9 166.6L750.8 168.5Z" fill="#8b0000" />
<path d="M722.6 191.6L728.9 185.8L730.1 186.6L724.5 192.2ZM747.6 166.6L749.5 166.0L750.1 168.5L748.2 168.5Z" fill="#ffa000" />
<path d="M446.2 535.6L456.2 535.6L457.5 538.1L450.0 539.4L446.2 538.8Z" fill="#ff1200" />
<path d="M448.8 539.4L456.2 538.8L456.9 545.0L452.5 545.6L449.4 543.8Z" fill="#ff7300" />
<path d="M415.0 495.0L420.0 495.6L421.9 501.2L418.8 505.0L416.2 500.0Z" fill="#ffcd00" />
<path d="M270.0 451.9L277.5 451.2L282.5 454.4L280.0 457.5L272.5 457.5ZM263.8 468.1L277.5 469.0L280.0 472.5L270.0 474.8L263.8 473.5ZM240.0 462.5L245.0 461.9L247.5 464.0L243.8 465.2L240.0 464.0Z" fill="#daff25" />
<path d="M252.5 456.2L256.2 457.5L261.2 463.1L260.0 465.0L255.0 462.5ZM279.4 460.6L284.4 461.9L283.8 466.2L280.0 465.0Z" fill="#ffa000" />
<path d="M253.8 465.0L265.0 465.6L265.0 468.5L256.2 468.1Z" fill="#ffcd00" />
<path d="M285.0 457.5L293.8 456.2L295.0 461.2L290.0 467.5L286.2 465.0ZM265.0 457.5L269.4 458.1L270.0 462.5L266.2 463.1Z" fill="#fffa00" />
<path d="M442.5 511.2L447.5 508.8L453.8 509.4L458.8 512.5L462.5 515.0L464.4 521.2L464.4 527.5L462.5 532.5L460.0 536.2L455.0 535.6L450.0 536.2L445.0 535.0L440.0 533.1L435.0 530.0L432.5 526.2L431.2 522.5L428.1 520.0L428.8 516.2L432.5 515.0L431.2 517.5L437.5 518.8L442.5 517.5ZM449.4 489.4L451.9 492.5L454.4 495.6L457.5 501.2L460.0 507.5L463.1 515.0L458.8 512.5L456.2 511.2L453.8 505.0L451.2 497.5ZM397.5 457.5L402.5 461.2L406.2 465.6L410.0 470.0L413.8 471.9L417.5 476.2L418.1 482.5L416.9 483.8L415.6 477.5L412.5 473.8L408.8 471.9L405.0 466.9L400.0 462.5ZM411.0 460.0L412.5 460.0L412.8 470.0L411.2 470.0ZM416.0 489.4L418.1 495.0L422.2 495.0L421.5 496.2L417.5 496.5L415.2 492.5ZM419.4 506.2L422.5 508.8L426.2 510.0L431.2 509.4L430.0 512.5L426.2 515.0L422.5 515.0L420.0 511.2ZM362.5 453.8L366.2 457.5L370.0 453.8L371.9 457.5L378.8 456.9L383.8 456.2L384.4 458.8L380.0 460.6L375.0 462.5L370.0 463.8L366.9 462.5L365.0 458.8ZM245.0 440.0L246.9 438.8L248.1 441.2L250.6 440.6L250.0 443.1L247.5 444.4L245.6 442.5ZM363.1 455.6L368.0 457.5L368.0 462.5L365.0 461.2Z" fill="#8b0000" />
<path d="M614.8 670.6L617.9 671.2L617.9 673.8L615.0 673.1ZM619.8 672.5L624.1 673.1L626.0 675.0L622.2 675.6ZM597.9 644.4L604.8 644.6L604.5 645.8L598.2 645.5ZM661.0 658.5L669.1 658.1L669.1 660.2L661.6 660.6Z" fill="#ffffff" />
<path d="M623.8 823.8L628.8 830.0L633.8 838.8L632.5 846.2L625.0 850.0L618.8 845.0L615.0 836.2L620.0 828.8ZM623.2 813.8L625.8 813.8L625.0 825.0L623.2 825.0Z" fill="#daff25" />
<path d="M752.5 673.8L758.8 670.0L761.8 672.0L755.0 677.0ZM651.2 783.0L655.5 782.5L656.5 786.0L652.0 786.5ZM668.8 788.0L672.5 789.0L676.2 793.0L673.8 794.0L670.0 791.0ZM683.8 790.0L687.0 790.5L687.5 794.0L684.5 793.5ZM711.2 796.5L717.5 796.0L717.5 800.0L711.8 800.0ZM749.5 687.0L755.0 686.5L755.0 688.8L749.5 689.0ZM785.0 692.5L788.8 695.0L792.5 699.5L791.2 700.5L787.0 696.2ZM825.0 811.2L830.6 807.5L831.2 809.4L826.2 812.1ZM738.8 814.4L743.8 814.6L743.8 816.2L738.8 816.0ZM753.5 796.9L755.6 797.2L755.2 799.0L753.5 798.5ZM725.0 798.1L726.9 797.5L727.2 799.1L725.2 799.6Z" fill="#ffffff" />
<path d="M307.5 192.5L311.2 192.5L311.2 200.0L307.5 200.0ZM278.8 193.0L281.2 193.0L281.2 198.8L278.8 198.8ZM148.8 383.0L157.5 383.0L157.5 387.0L148.8 387.0ZM213.0 371.2L218.8 371.2L218.8 373.0L213.0 373.0ZM198.8 189.2L201.2 189.2L201.2 190.8L198.8 190.8ZM256.2 172.0L258.8 172.0L258.8 173.5L256.2 173.5ZM363.8 334.0L370.0 334.0L370.0 336.2L363.8 336.2ZM471.2 323.0L475.0 323.0L475.0 326.2L471.2 326.2ZM490.0 332.0L498.8 334.5L498.8 337.0L491.2 335.0ZM500.0 335.0L510.0 336.2L509.5 338.0L500.5 337.0ZM390.0 376.2L395.0 375.0L395.5 378.0L391.2 380.0ZM407.5 372.0L414.5 373.0L414.5 376.2L410.0 375.0ZM417.5 384.0L424.5 386.2L425.0 390.0L419.5 387.5ZM437.5 381.2L443.8 381.2L443.8 383.0L437.5 383.0ZM456.2 391.2L462.5 392.5L462.0 394.5L456.8 393.0ZM626.2 201.8L631.2 201.8L631.2 206.0L626.2 206.0ZM608.8 224.0L612.5 224.0L612.5 228.0L608.8 228.0ZM635.0 178.8L640.0 178.8L640.0 182.5L635.0 182.5ZM657.5 163.0L662.0 164.5L661.5 168.0L658.0 166.5ZM590.0 176.2L593.8 177.0L593.0 192.5L590.8 191.2ZM431.2 480.6L433.8 481.2L437.5 483.8L436.2 485.6L432.5 483.8ZM440.6 490.0L443.1 491.2L443.8 500.0L441.9 498.8ZM441.6 506.2L443.2 506.2L443.2 508.8L441.6 508.8ZM373.8 441.5L378.8 442.2L378.1 445.0L374.4 444.0ZM777.0 163.2L799.5 162.9L815.8 163.8L815.8 165.4L799.5 164.8L777.0 164.2ZM814.5 171.0L822.6 171.2L822.0 172.9L815.1 172.8ZM743.2 191.2L747.6 191.0L747.6 193.2L743.9 193.5ZM153.8 675.0L157.5 675.5L160.0 681.2L157.0 680.0ZM207.5 698.0L213.8 698.8L217.0 701.5L210.0 700.5ZM223.8 713.8L230.0 716.2L240.0 722.5L237.5 723.5L228.8 720.0L224.5 717.5ZM291.2 728.8L298.0 727.0L299.0 730.0L292.5 732.0ZM255.0 743.8L257.8 743.8L257.8 746.2L255.0 746.2ZM275.0 701.2L285.0 701.2L285.0 702.8L275.0 702.8ZM318.8 768.8L326.2 767.5L328.8 777.0L323.8 777.5L323.0 772.5ZM175.0 709.5L178.0 709.5L178.0 712.5L175.0 712.5ZM190.0 685.5L192.5 685.5L192.5 688.0L190.0 688.0ZM340.0 716.2L350.0 713.0L360.0 712.5L360.0 714.5L350.0 715.5L341.2 718.5ZM323.8 652.5L327.5 652.5L327.5 655.0L323.8 655.0ZM335.0 632.5L340.0 632.0L338.0 640.5L335.0 639.5ZM607.5 612.5L617.5 608.8L625.0 612.5L625.0 617.0L617.5 612.5L608.8 615.5ZM749.5 415.0L753.8 413.0L754.5 415.0L750.5 417.0ZM600.0 600.0L602.5 600.0L602.5 603.0L600.0 603.0Z" fill="#ffffff" />
<path d="M782.5 819.1L790.0 818.5L800.0 819.1L807.5 818.5L813.1 818.2L813.5 820.2L807.5 821.0L800.0 821.9L795.0 822.5L788.1 823.4L782.5 821.2Z" fill="#d3d3d3" />
<path d="M511.2 686.2L517.5 690.6L521.2 690.6L524.4 686.2L522.5 685.6L520.0 688.8L517.5 689.0L513.8 685.6Z" fill="#ffffff" />
<path d="M311.2 723.5L315.0 722.0L325.0 720.2L337.5 720.8L350.0 718.4L362.5 719.5L378.0 721.2L378.0 722.8L365.0 723.0L356.2 721.5L350.0 724.0L337.5 725.2L325.0 724.6L312.5 725.9L305.0 725.2L300.0 722.8L303.8 719.4L308.8 716.9Z" fill="#ffffff" />
<path d="M203.8 421.2L206.2 422.0L210.0 430.0L212.0 436.2L208.8 435.5L206.2 428.8ZM343.8 401.2L345.5 402.0L346.2 406.2L344.5 405.5Z" fill="#ffffff" />
<path d="M326.9 182.9L331.2 176.0L336.9 170.0" fill="none" stroke="#d3d3d3" stroke-width="1.2"/>
<path d="M533.2 307.5L528.2 305.0L522.0 301.2L518.2 299.4M534.5 316.2L529.5 312.5L524.5 309.4M533.2 322.5L529.5 320.0L525.8 317.5M537.0 326.2L530.8 325.0L524.5 323.8" fill="none" stroke="#aaff55" stroke-width="1.0"/>
<path d="M532.6 306.2L527.6 304.0L521.4 300.4L517.2 298.5L516.8 301.2M533.9 315.6L528.9 311.9L523.9 308.8M532.6 321.9L528.9 319.4L525.1 316.9M530.8 286.2L533.2 283.8L540.1 279.0L542.6 280.6" fill="none" stroke="#ffffff" stroke-width="0.8"/>
<path d="M542.6 332.5L546.4 342.5L550.8 352.5L551.0 357.5L549.8 360.6L544.5 362.8L539.5 365.2L534.5 368.8" fill="none" stroke="#d3d3d3" stroke-width="1.0"/>
<path d="M240.0 465.6L247.5 467.2L255.0 470.2L263.8 474.0L270.0 475.2L277.5 472.8L282.5 471.5M281.2 461.2L285.0 467.5L290.0 470.0L296.2 473.8L291.2 478.1M287.5 453.8L292.5 457.5L293.8 462.5L300.0 461.2M266.2 451.2L271.2 450.0L281.2 451.9L283.1 456.2L277.5 458.8M255.0 461.2L262.5 463.8L268.8 470.0L277.5 467.5M322.5 452.8L330.0 451.5L340.0 451.5L350.0 451.5" fill="none" stroke="#ffffff" stroke-width="0.9"/>
<path d="M446.0 515.2L451.6 511.1L453.8 512.4L455.1 515.5L452.9 520.5L450.1 518.6L446.0 515.2" fill="none" stroke="#dcbcbc" stroke-width="0.8"/>
<path d="M485.6 520.6L490.0 524.4L495.0 521.9L502.5 520.0L506.2 520.6M525.0 543.1L528.8 541.9L533.8 546.2L538.1 549.4L538.8 553.8L537.5 558.1M546.2 558.1L550.0 562.5L553.8 567.5M525.6 560.0L530.0 565.0L535.0 570.0M537.5 575.0L542.5 578.8L549.4 581.9M553.8 577.5L557.5 585.0L562.5 590.0M572.5 593.1L580.0 595.0L580.6 598.8L573.8 605.0M568.8 571.9L570.0 568.8M561.2 576.5L563.8 577.2M594.4 600.6L598.0 601.0M594.4 600.6L601.9 602.2M512.5 551.2L520.0 550.0" fill="none" stroke="#ffffff" stroke-width="1.3"/>
<path d="M490.6 597.5L498.8 601.2L508.8 610.0L517.5 616.2L527.5 620.6M440.0 588.1L450.0 586.2L460.0 588.1L470.0 592.5L480.0 596.9L490.0 598.8M477.5 625.0L488.8 631.9M420.0 615.6L430.0 614.4L440.0 615.0M373.8 611.2L382.5 610.0" fill="none" stroke="#ffffff" stroke-width="0.7"/>
<path d="M231.2 185.0L236.2 186.2L240.0 188.8M255.0 197.5L257.0 205.0L258.0 212.5M311.2 326.2L315.0 335.0L317.5 346.2M313.8 326.2L318.8 328.8L317.5 340.0M322.5 368.0L330.0 369.0L336.5 372.5M363.8 335.5L370.0 334.5M346.2 393.8L350.0 391.2M343.8 401.2L346.2 406.0M322.5 368.0L330.0 369.0L336.5 372.5M516.2 217.0L518.8 225.0M521.2 216.2L523.2 226.2M526.2 215.5L531.2 225.0M531.2 215.5L536.2 218.8M497.5 165.5L503.8 175.0M540.0 210.0L546.2 211.5M540.0 190.0L555.0 180.0L572.5 171.2L588.8 165.0M540.0 167.0L555.0 168.8L570.0 166.2L588.8 163.8M593.0 192.5L588.8 200.0L585.0 206.2M540.0 210.0L546.2 211.5M140.0 168.8L143.8 172.5M150.0 165.0L155.0 163.0M141.2 190.0L145.0 186.2M181.2 201.2L182.5 208.8" fill="none" stroke="#ffffff" stroke-width="0.7"/>
<path d="M795.0 836.2L796.9 842.5L800.0 848.8L802.5 853.8L798.8 858.8M823.1 848.1L821.5 853.8L820.0 858.1M800.0 858.1L807.5 858.5L815.0 857.5M526.9 163.5L530.0 167.2L537.5 168.5L545.0 170.4L548.0 169.1M488.1 186.0L495.0 185.4L503.1 186.0M493.1 186.6L495.0 189.1M483.1 172.9L487.5 172.0M496.2 165.4L498.1 169.8M534.4 182.9L539.4 180.4L535.6 185.4L537.5 188.5" fill="none" stroke="#ffffff" stroke-width="0.8"/>
<path d="M438 447h2v2h-2zM446 474h2v2h-2zM440 460h2v2h-2zM442 464h1v2h-1zM439 443h1v2h-1zM438 458h2v1h-2zM444 473h2v2h-2zM446 472h1v2h-1zM438 468h1v2h-1zM439 445h2v2h-2zM451 482h1v2h-1zM452 484h1v2h-1zM447 475h1v2h-1zM440 457h1v1h-1zM436 443h2v2h-2zM452 486h2v1h-2zM446 471h2v2h-2zM445 478h2v1h-2zM443 473h1v1h-1zM440 458h2v1h-2zM445 469h2v2h-2zM438 454h1v2h-1zM435 459h2v2h-2zM447 479h2v2h-2zM434 441h2v2h-2zM435 444h2v2h-2zM453 484h2v1h-2zM438 452h2v1h-2zM446 480h1v2h-1zM436 443h2v1h-2zM446 472h2v2h-2zM453 488h2v2h-2zM441 463h2v2h-2zM448 477h2v2h-2zM453 487h1v2h-1zM442 461h2v1h-2zM439 452h2v2h-2zM438 459h1v1h-1zM439 450h2v2h-2zM436 459h2v1h-2zM445 469h2v1h-2zM436 441h2v1h-2zM445 476h2v2h-2zM447 483h1v2h-1zM438 444h1v1h-1zM442 462h2v2h-2zM440 460h2v1h-2zM437 468h2v1h-2z" fill="#8b0000"/>
<path d="M437 433h2v1h-2zM497 384h2v2h-2zM490 382h2v2h-2zM494 379h2v1h-2zM447 476h2v1h-2zM454 415h2v2h-2zM439 446h1v2h-1zM447 473h2v2h-2zM502 380h2v2h-2zM473 393h2v2h-2zM445 424h2v2h-2zM436 430h1v1h-1zM456 491h2v2h-2zM436 427h2v1h-2zM441 466h2v2h-2zM503 385h2v2h-2zM451 413h2v2h-2zM448 485h1v2h-1zM452 480h2v1h-2zM472 397h1v1h-1zM439 438h2v2h-2zM495 385h1v1h-1zM440 464h2v1h-2zM502 381h2v1h-2zM450 496h1v2h-1zM443 464h2v1h-2zM481 396h1v1h-1zM451 478h2v2h-2zM441 466h1v2h-1zM463 401h1v2h-1zM496 386h2v1h-2zM445 422h2v1h-2zM460 409h1v2h-1zM440 427h2v2h-2zM474 399h2v2h-2zM455 496h2v2h-2zM492 385h1v1h-1zM499 381h2v2h-2zM439 444h2v1h-2zM487 384h1v2h-1zM455 489h2v1h-2zM456 497h1v2h-1zM455 492h1v2h-1zM498 381h2v2h-2zM444 469h1v2h-1zM476 395h1v2h-1zM440 455h2v1h-2zM442 427h2v1h-2zM476 397h2v2h-2zM446 417h1v2h-1zM456 494h1v1h-1zM438 469h2v2h-2zM503 385h2v2h-2zM442 429h1v2h-1zM451 413h2v2h-2zM459 411h2v2h-2zM439 448h2v1h-2zM464 403h1v2h-1zM436 440h2v2h-2zM441 460h2v1h-2zM473 397h2v2h-2zM446 478h2v2h-2zM446 424h2v2h-2zM439 459h1v2h-1zM486 389h1v2h-1zM433 434h1v2h-1zM517 371h2v1h-2zM440 431h2v2h-2zM455 495h2v2h-2zM447 423h2v1h-2zM441 467h2v2h-2zM473 389h1v2h-1zM478 397h2v2h-2zM443 471h1v1h-1zM439 447h2v2h-2zM516 372h2v2h-2zM441 460h2v1h-2zM460 410h1v2h-1zM462 404h2v2h-2zM459 411h1v2h-1zM446 474h2v2h-2zM456 491h2v2h-2zM446 470h2v1h-2zM460 410h2v2h-2zM481 393h2v2h-2zM438 451h2v2h-2zM478 398h1v2h-1zM435 466h2v1h-2zM452 488h2v2h-2zM443 482h1v2h-1zM453 489h2v1h-2zM440 439h2v2h-2zM455 497h1v2h-1zM503 381h2v2h-2zM437 453h2v1h-2zM435 439h1v2h-1zM450 481h1v2h-1zM432 441h2v1h-2zM433 464h2v1h-2zM491 380h2v1h-2zM439 463h2v2h-2zM451 479h2v2h-2zM440 464h1v2h-1zM448 421h2v2h-2zM439 437h2v1h-2zM441 465h2v2h-2zM440 416h2v2h-2zM509 376h2v2h-2zM501 384h2v2h-2zM441 471h1v2h-1zM439 426h1v2h-1zM434 426h2v2h-2zM452 414h1v1h-1zM463 408h1v2h-1zM446 471h2v2h-2zM451 407h1v1h-1zM448 489h2v2h-2zM440 461h2v2h-2zM438 458h2v1h-2zM434 451h2v2h-2zM451 491h1v2h-1zM469 397h2v2h-2zM446 484h2v1h-2zM446 419h2v2h-2zM478 399h2v2h-2zM443 423h2v2h-2zM503 385h2v1h-2zM433 436h2v2h-2zM470 402h2v1h-2zM441 470h2v2h-2zM438 435h2v2h-2zM456 410h2v1h-2zM440 434h2v2h-2zM496 386h1v2h-1zM442 431h2v1h-2zM434 442h1v2h-1zM444 466h2v2h-2zM492 386h2v1h-2zM438 446h1v1h-1zM441 433h2v2h-2zM442 432h2v2h-2zM433 432h1v2h-1zM454 490h2v2h-2zM478 396h1v2h-1zM441 431h2v2h-2zM478 388h2v2h-2zM474 399h2v2h-2zM456 491h2v2h-2zM433 449h1v2h-1zM482 390h2v2h-2zM473 401h1v1h-1zM440 432h1v2h-1zM474 400h2v2h-2zM472 390h2v2h-2zM474 401h2v1h-2zM437 454h2v1h-2zM504 380h2v2h-2zM440 420h2v1h-2zM448 473h2v2h-2zM454 488h2v2h-2zM507 378h2v2h-2zM454 414h2v1h-2zM449 484h2v1h-2zM477 398h2v1h-2zM509 377h2v1h-2zM449 416h2v1h-2zM484 391h1v2h-1zM483 386h2v1h-2zM453 489h2v2h-2zM516 372h2v2h-2zM438 424h2v1h-2zM437 457h1v2h-1zM437 437h1v1h-1zM454 497h2v2h-2zM436 428h2v2h-2zM436 447h2v1h-2zM476 401h1v2h-1zM435 437h2v2h-2zM453 410h2v2h-2zM475 400h2v1h-2zM439 425h1v1h-1zM459 410h1v1h-1zM449 493h2v2h-2zM458 408h1v2h-1zM434 442h2v2h-2zM445 470h2v2h-2zM438 457h1v2h-1zM439 454h2v2h-2zM503 374h2v2h-2zM483 384h1v1h-1zM455 408h2v2h-2zM450 490h2v2h-2zM483 390h2v2h-2zM461 411h2v1h-2zM512 374h1v2h-1zM437 453h2v1h-2zM450 487h2v1h-2zM464 406h1v1h-1zM510 376h2v2h-2zM452 489h2v2h-2zM450 410h2v1h-2zM447 423h2v1h-2zM466 405h1v1h-1zM439 433h1v2h-1zM443 471h2v2h-2zM472 400h2v1h-2zM457 411h2v2h-2zM497 382h2v1h-2zM456 493h1v2h-1zM484 387h1v2h-1zM482 394h2v1h-2zM436 459h1v1h-1zM433 449h2v1h-2zM449 480h1v1h-1zM451 486h2v2h-2zM485 389h1v1h-1zM437 444h2v1h-2zM434 448h2v2h-2zM445 477h2v2h-2zM454 486h2v2h-2zM490 383h1v2h-1zM445 426h1v2h-1zM440 436h2v2h-2zM463 400h2v2h-2zM499 385h2v1h-2zM433 451h2v1h-2zM476 397h1v2h-1zM433 433h2v2h-2zM501 385h2v1h-2zM450 418h1v1h-1zM443 422h2v2h-2zM449 420h1v2h-1zM445 418h2v2h-2zM440 435h2v2h-2zM443 467h2v2h-2zM442 427h2v2h-2zM438 475h1v1h-1zM461 409h2v2h-2zM441 462h2v2h-2zM477 399h2v2h-2zM513 371h1v2h-1zM438 463h2v2h-2z" fill="#8b0000"/>
<path d="M517 367h2v2h-2zM538 340h2v2h-2zM517 365h2v1h-2zM535 335h2v2h-2zM522 356h2v1h-2zM526 346h2v2h-2zM523 361h2v2h-2zM529 344h2v2h-2zM520 367h2v1h-2zM522 346h2v1h-2zM510 351h2v2h-2zM517 362h1v2h-1zM514 369h2v1h-2zM515 354h1v1h-1zM530 339h1v2h-1zM533 343h2v2h-2zM534 341h2v2h-2zM512 350h2v2h-2zM523 331h1v2h-1zM527 330h2v1h-2zM522 367h2v2h-2zM521 344h1v2h-1zM523 360h2v2h-2zM517 347h2v1h-2zM527 329h1v2h-1zM526 351h2v1h-2zM537 335h2v2h-2zM516 348h1v1h-1zM527 371h2v2h-2zM531 336h2v2h-2zM524 343h1v2h-1zM525 352h2v2h-2zM525 331h2v2h-2zM522 346h2v1h-2zM528 333h1v1h-1zM524 366h2v2h-2zM520 350h2v1h-2zM519 345h1v2h-1zM530 331h2v1h-2zM524 331h1v2h-1zM535 334h2v2h-2zM524 366h1v1h-1zM528 335h2v1h-2zM524 330h2v2h-2zM522 359h2v2h-2zM525 360h2v1h-2zM528 371h2v1h-2zM524 338h1v2h-1zM521 349h1v2h-1zM517 364h2v1h-2zM511 358h2v2h-2zM538 333h2v2h-2zM529 340h2v2h-2zM529 344h2v2h-2zM525 348h1v2h-1zM521 370h2v2h-2zM528 337h2v2h-2zM528 330h2v1h-2zM522 366h1v2h-1zM517 360h2v2h-2zM526 368h2v2h-2zM523 347h2v1h-2zM526 342h2v2h-2zM531 332h2v2h-2zM528 339h2v2h-2zM516 352h2v2h-2zM524 351h2v2h-2zM535 338h2v2h-2zM524 345h2v2h-2zM536 331h2v2h-2zM520 361h2v1h-2zM518 371h1v2h-1zM516 357h2v2h-2zM509 359h2v1h-2zM514 370h1v2h-1zM519 366h1v1h-1zM523 363h2v2h-2zM522 340h1v2h-1zM517 348h2v1h-2zM515 365h1v1h-1zM523 353h2v2h-2zM523 359h2v2h-2zM533 330h1v2h-1zM518 347h2v2h-2zM535 334h2v2h-2zM534 339h2v2h-2zM515 357h2v2h-2zM525 338h2v2h-2zM518 352h2v2h-2zM518 364h2v2h-2zM520 356h2v1h-2zM511 359h2v2h-2zM526 370h2v2h-2zM512 363h2v1h-2zM524 365h2v2h-2zM522 367h1v2h-1zM514 352h2v1h-2zM509 361h2v2h-2zM519 346h2v2h-2zM516 372h2v2h-2zM531 343h2v2h-2zM518 347h1v2h-1zM528 336h2v1h-2zM516 355h1v1h-1zM534 338h2v2h-2zM521 348h2v2h-2z" fill="#8b0000"/>
<path d="M507 379h2v2h-2zM488 387h1v2h-1zM483 384h2v1h-2zM502 376h1v2h-1zM505 380h1v2h-1zM510 376h2v1h-2zM496 377h2v2h-2zM504 382h1v2h-1zM487 384h2v1h-2zM511 375h1v2h-1zM474 391h2v2h-2zM480 397h1v1h-1zM483 391h2v2h-2zM506 377h2v2h-2zM503 378h1v2h-1zM497 379h2v2h-2zM486 388h2v2h-2zM481 392h1v2h-1zM500 383h2v2h-2zM480 387h2v2h-2zM479 393h2v2h-2zM503 383h1v2h-1zM482 385h1v2h-1zM484 392h2v2h-2zM486 390h2v2h-2zM504 377h2v2h-2zM484 386h2v2h-2zM500 377h2v2h-2zM496 384h1v2h-1zM492 382h2v2h-2zM483 392h2v2h-2zM505 375h2v2h-2zM498 381h2v2h-2zM496 378h2v1h-2zM490 384h2v2h-2zM492 386h2v2h-2zM513 372h2v1h-2zM498 376h1v2h-1zM513 373h2v1h-2zM504 377h2v2h-2zM478 396h2v1h-2zM483 391h1v1h-1zM502 376h2v2h-2zM478 397h1v1h-1zM483 390h1v2h-1zM495 386h2v2h-2zM500 383h1v1h-1zM490 388h2v2h-2zM503 373h2v1h-2zM500 380h2v1h-2zM483 383h1v1h-1zM490 382h2v1h-2zM502 385h1v2h-1zM486 390h2v1h-2zM490 385h2v1h-2zM499 382h2v2h-2zM498 375h2v2h-2zM502 380h2v1h-2zM497 382h2v2h-2zM498 384h2v1h-2zM512 374h2v2h-2zM508 373h2v2h-2zM492 382h2v2h-2zM477 396h2v2h-2zM509 377h1v2h-1z" fill="#8b0000"/>
<path d="M138 524h1v2h-1zM145 500h2v1h-2zM145 492h1v1h-1zM198 461h1v2h-1zM172 477h1v2h-1zM219 454h1v1h-1zM154 490h1v1h-1zM217 460h1v2h-1zM133 535h2v1h-2zM221 462h2v1h-2zM151 490h2v2h-2zM135 547h1v2h-1zM132 551h1v1h-1zM170 475h1v1h-1zM142 502h1v2h-1zM236 460h2v1h-2zM138 520h2v1h-2zM187 462h1v2h-1zM135 550h1v1h-1zM142 502h1v1h-1zM142 493h1v2h-1zM167 479h1v2h-1zM186 468h1v1h-1zM134 521h1v2h-1zM150 492h1v1h-1zM137 520h1v2h-1zM208 462h1v1h-1zM161 484h1v2h-1zM135 546h1v1h-1zM237 459h1v1h-1zM138 514h1v2h-1zM206 462h1v1h-1zM151 488h1v1h-1zM137 540h1v2h-1zM239 461h2v1h-2zM143 498h1v1h-1zM209 461h2v1h-2zM184 460h1v1h-1zM239 461h1v1h-1zM228 454h1v2h-1zM219 460h1v1h-1zM233 448h2v1h-2zM181 471h1v1h-1zM175 473h1v1h-1zM197 460h1v1h-1zM148 496h2v2h-2zM140 534h2v2h-2zM179 462h2v2h-2zM171 478h1v1h-1zM131 549h2v1h-2zM217 450h2v2h-2zM213 460h1v1h-1zM188 460h1v1h-1zM216 461h2v1h-2zM140 536h1v1h-1zM201 455h2v2h-2zM186 468h2v1h-2zM189 465h1v1h-1zM177 473h1v1h-1zM157 487h1v2h-1zM195 461h1v2h-1zM185 465h1v2h-1zM184 466h1v1h-1zM134 519h1v2h-1zM141 525h1v1h-1zM236 461h2v2h-2zM226 458h1v1h-1zM137 545h1v2h-1zM154 486h1v2h-1zM131 533h1v1h-1zM193 461h1v1h-1zM195 462h1v1h-1zM156 487h2v1h-2zM194 465h1v1h-1zM182 465h2v1h-2zM149 491h1v1h-1zM142 509h1v1h-1zM170 478h1v1h-1zM141 522h1v1h-1zM225 458h1v1h-1zM140 504h1v2h-1zM232 458h1v2h-1zM160 484h1v2h-1zM179 464h2v1h-2zM156 489h1v1h-1zM159 482h2v1h-2zM138 521h2v1h-2zM136 538h1v1h-1zM185 459h1v1h-1zM223 458h1v1h-1zM132 531h1v2h-1zM186 467h1v1h-1zM139 528h2v1h-2zM211 456h1v2h-1zM132 540h1v1h-1zM140 515h2v2h-2zM217 456h1v1h-1zM195 456h1v1h-1zM169 470h2v1h-2zM180 465h1v1h-1zM138 512h1v1h-1zM202 461h2v2h-2zM155 489h1v1h-1zM182 466h1v1h-1zM227 460h1v2h-1z" fill="#8b0000"/>
<path d="M240 458h2v1h-2zM241 455h1v2h-1zM252 454h2v1h-2zM245 458h1v1h-1zM254 447h1v2h-1zM240 442h1v1h-1zM248 447h2v1h-2zM243 458h1v1h-1zM249 443h2v1h-2zM252 441h1v2h-1zM260 452h1v1h-1zM259 453h1v1h-1zM254 449h2v2h-2zM250 449h2v2h-2zM255 448h1v1h-1zM243 448h1v1h-1zM243 446h1v1h-1zM259 449h1v1h-1zM243 460h1v1h-1zM251 443h2v2h-2zM244 455h2v1h-2zM253 457h1v1h-1zM248 452h1v1h-1zM256 445h2v1h-2zM254 450h1v2h-1zM254 442h1v2h-1zM250 442h2v2h-2zM242 457h1v1h-1zM251 458h1v1h-1z" fill="#8b0000"/>
<path d="M331 451h1v2h-1zM280 448h2v1h-2zM274 450h2v2h-2zM318 451h1v1h-1z" fill="#8b0000"/>
<path d="M365 455h1v2h-1zM359 452h1v1h-1zM361 452h1v2h-1zM354 450h1v1h-1zM352 445h1v1h-1z" fill="#8b0000"/>
<path d="M397 459h2v1h-2zM393 456h1v1h-1zM393 454h2v1h-2zM385 452h2v1h-2zM394 452h2v1h-2zM384 452h2v2h-2zM388 450h2v2h-2zM390 455h2v1h-2zM393 453h2v1h-2zM393 453h1v2h-1zM386 456h1v1h-1z" fill="#8b0000"/>
<path d="M415 490h2v1h-2zM409 468h2v2h-2zM416 498h2v1h-2zM415 478h2v1h-2zM417 482h2v1h-2zM418 504h1v1h-1zM419 504h1v2h-1zM415 491h1v1h-1zM416 488h2v2h-2zM419 504h2v2h-2zM414 472h1v2h-1zM416 486h1v2h-1zM416 499h2v2h-2zM401 462h2v2h-2zM418 485h1v2h-1zM418 486h2v1h-2zM415 496h2v2h-2zM417 479h2v1h-2zM415 494h2v2h-2zM417 480h2v1h-2zM421 505h2v2h-2zM408 469h2v2h-2zM401 462h2v1h-2z" fill="#8b0000"/>
<path d="M431 524h2v1h-2zM427 516h2v1h-2zM421 507h2v1h-2zM430 510h2v1h-2zM421 507h1v2h-1zM428 518h2v1h-2zM426 515h2v2h-2z" fill="#8b0000"/>
<path d="M544 291h2v1h-2zM557 267h2v1h-2zM554 275h2v2h-2zM539 312h2v2h-2zM545 285h1v2h-1zM571 267h2v1h-2zM555 269h1v2h-1zM550 282h1v1h-1zM560 266h1v1h-1zM541 308h1v1h-1zM542 292h1v1h-1zM566 265h1v2h-1zM538 301h2v1h-2zM551 307h1v2h-1zM555 301h1v1h-1zM537 322h1v1h-1zM550 273h2v1h-2zM536 290h1v1h-1z" fill="#8b0000"/>
<path d="M568 278h2v1h-2zM548 278h2v2h-2zM558 264h2v2h-2zM552 307h1v1h-1zM578 238h1v2h-1zM548 314h2v2h-2zM554 305h1v2h-1zM560 289h1v1h-1zM565 284h1v2h-1zM541 298h2v1h-2zM538 297h1v1h-1zM538 322h1v2h-1z" fill="#ffa000"/>
<path d="M541 300h1v2h-1zM548 294h1v2h-1zM550 295h2v1h-2zM552 300h1v1h-1zM554 300h1v1h-1zM547 294h1v1h-1zM544 302h1v2h-1zM547 306h1v2h-1zM542 297h1v1h-1zM547 304h1v1h-1zM549 302h2v2h-2zM545 306h2v2h-2zM540 299h1v2h-1z" fill="#8b0000"/>
<path d="M650 202h1v1h-1zM638 217h1v1h-1zM649 200h1v2h-1zM643 208h2v1h-2zM657 196h1v2h-1z" fill="#8b0000"/>
<path d="M445 425h2v1h-2zM438 442h2v1h-2zM438 442h1v1h-1zM457 412h1v2h-1zM477 397h1v1h-1zM470 402h1v1h-1zM452 417h2v1h-2zM438 444h1v1h-1zM444 426h2v1h-2z" fill="#ffcd00"/>
<path d="M439 538h1v1h-1zM442 538h1v1h-1zM441 538h1v1h-1zM428 526h1v1h-1zM438 536h1v1h-1zM429 522h1v1h-1zM444 543h1v1h-1zM425 518h1v1h-1zM435 533h1v1h-1zM433 530h1v1h-1zM442 538h1v1h-1zM440 534h1v1h-1zM443 541h1v1h-1zM428 523h1v1h-1zM429 527h1v1h-1zM424 515h1v1h-1zM427 525h1v1h-1zM429 525h1v1h-1zM438 534h1v1h-1zM424 515h1v1h-1zM426 523h1v1h-1zM444 545h1v1h-1zM442 539h1v1h-1zM444 540h1v1h-1zM431 525h1v1h-1zM444 545h1v1h-1zM430 524h1v1h-1zM432 528h1v1h-1zM436 536h1v1h-1zM433 528h1v1h-1zM434 530h1v1h-1zM430 527h1v1h-1zM431 526h1v1h-1zM423 517h1v1h-1zM440 534h1v1h-1zM441 536h1v1h-1zM438 537h1v1h-1zM443 543h1v1h-1zM441 536h1v1h-1zM440 541h1v1h-1zM442 545h1v1h-1zM442 538h1v1h-1zM442 538h1v1h-1zM438 533h1v1h-1zM424 521h1v1h-1zM442 538h1v1h-1zM430 523h1v1h-1zM425 522h1v1h-1zM444 542h1v1h-1zM443 541h1v1h-1zM428 524h1v1h-1zM439 540h1v1h-1zM435 535h1v1h-1zM426 517h1v1h-1zM443 541h1v1h-1zM425 519h1v1h-1zM445 541h1v1h-1zM428 520h1v1h-1zM432 526h1v1h-1zM441 537h1v1h-1zM443 539h1v1h-1zM435 535h1v1h-1zM436 536h1v1h-1zM439 538h1v1h-1zM431 525h1v1h-1zM431 527h1v1h-1z" fill="#ffffff"/>
<path d="M447 549h1v1h-1zM454 545h1v1h-1zM459 546h1v1h-1zM456 547h1v1h-1zM451 549h1v1h-1zM449 547h1v1h-1zM448 547h1v1h-1zM453 545h1v1h-1zM452 546h1v1h-1zM447 550h1v1h-1zM452 546h1v1h-1zM447 549h1v1h-1zM460 545h1v1h-1zM450 547h1v1h-1zM457 545h1v1h-1zM449 547h1v1h-1zM453 545h1v1h-1zM446 548h1v1h-1zM449 550h1v1h-1zM459 546h1v1h-1zM451 547h1v1h-1zM448 547h1v1h-1zM459 546h1v1h-1z" fill="#ffffff"/>
<path d="M416 497h1v1h-1zM415 497h1v1h-1zM419 501h1v1h-1zM417 505h1v1h-1zM417 505h1v1h-1zM416 491h1v1h-1zM419 500h1v1h-1zM415 495h1v1h-1zM417 502h1v1h-1zM418 503h1v1h-1zM420 503h1v1h-1zM415 496h1v1h-1zM415 495h1v1h-1zM414 494h1v1h-1zM415 497h1v1h-1zM417 503h1v1h-1zM419 502h1v1h-1zM417 502h1v1h-1z" fill="#ffffff"/>
</g>
<rect x="129.3" y="162.2" width="710.8" height="698.2" fill="none" stroke="#000" stroke-width="1"/>
<path d="M129.5 177.79999999999998H112.3M129.5 271.40000000000003H112.3M129.5 365.0H112.3M129.5 458.6H112.3M129.5 552.2H112.3M129.5 645.8000000000001H112.3M129.5 739.4H112.3M129.5 833.0H112.3M185.5 860V877M279.25 860V877M373 860V877M466.75 860V877M560.5 860V877M654.25 860V877M748 860V877" stroke="#000" stroke-width="1" fill="none"/>
<text x="98.2" y="186.0" font-size="22.5" letter-spacing="0.2" text-anchor="end">45°N</text>
<text x="98.2" y="279.6" font-size="22.5" letter-spacing="0.2" text-anchor="end">40°N</text>
<text x="98.2" y="373.2" font-size="22.5" letter-spacing="0.2" text-anchor="end">35°N</text>
<text x="98.2" y="466.8" font-size="22.5" letter-spacing="0.2" text-anchor="end">30°N</text>
<text x="98.2" y="560.4" font-size="22.5" letter-spacing="0.2" text-anchor="end">25°N</text>
<text x="98.2" y="654.0" font-size="22.5" letter-spacing="0.2" text-anchor="end">20°N</text>
<text x="98.2" y="747.5999999999999" font-size="22.5" letter-spacing="0.2" text-anchor="end">15°N</text>
<text x="98.2" y="841.1999999999999" font-size="22.5" letter-spacing="0.2" text-anchor="end">10°N</text>
<text x="185.2" y="910" font-size="22.5" letter-spacing="0.2" text-anchor="middle">95°W</text>
<text x="278.95" y="910" font-size="22.5" letter-spacing="0.2" text-anchor="middle">90°W</text>
<text x="372.7" y="910" font-size="22.5" letter-spacing="0.2" text-anchor="middle">85°W</text>
<text x="466.45" y="910" font-size="22.5" letter-spacing="0.2" text-anchor="middle">80°W</text>
<text x="560.2" y="910" font-size="22.5" letter-spacing="0.2" text-anchor="middle">75°W</text>
<text x="653.95" y="910" font-size="22.5" letter-spacing="0.2" text-anchor="middle">70°W</text>
<text x="747.7" y="910" font-size="22.5" letter-spacing="0.2" text-anchor="middle">65°W</text>
<text x="484.6" y="945" font-size="22.5" letter-spacing="0.35" text-anchor="middle">Longitude</text>
<text transform="translate(40.4,511.5) rotate(-90)" font-size="22.5" letter-spacing="0.25" text-anchor="middle">Latitude</text>
<text x="163.3" y="134" font-size="25.5">2020111115</text>
<text x="656.8" y="128.5" font-size="25.5">Elevation (m)</text>
<rect x="878.8" y="169.30" width="42.0" height="31.37" fill="#8b0000"/>
<rect x="878.8" y="200.37" width="42.0" height="31.37" fill="#b50000"/>
<rect x="878.8" y="231.45" width="42.0" height="31.37" fill="#e20000"/>
<rect x="878.8" y="262.52" width="42.0" height="31.37" fill="#ff1200"/>
<rect x="878.8" y="293.59" width="42.0" height="31.37" fill="#ff4200"/>
<rect x="878.8" y="324.66" width="42.0" height="31.37" fill="#ff7300"/>
<rect x="878.8" y="355.74" width="42.0" height="31.37" fill="#ffa000"/>
<rect x="878.8" y="386.81" width="42.0" height="31.37" fill="#ffcd00"/>
<rect x="878.8" y="417.88" width="42.0" height="31.37" fill="#fffa00"/>
<rect x="878.8" y="448.95" width="42.0" height="31.37" fill="#daff25"/>
<rect x="878.8" y="480.03" width="42.0" height="31.37" fill="#aaff55"/>
<rect x="878.8" y="511.10" width="42.0" height="31.37" fill="#7fff7f"/>
<rect x="878.8" y="542.17" width="42.0" height="31.37" fill="#51ffae"/>
<rect x="878.8" y="573.25" width="42.0" height="31.37" fill="#23ffdc"/>
<rect x="878.8" y="604.32" width="42.0" height="31.37" fill="#00f3ff"/>
<rect x="878.8" y="635.39" width="42.0" height="31.37" fill="#00c5ff"/>
<rect x="878.8" y="666.46" width="42.0" height="31.37" fill="#0096ff"/>
<rect x="878.8" y="697.54" width="42.0" height="31.37" fill="#0064ff"/>
<rect x="878.8" y="728.61" width="42.0" height="31.37" fill="#0032ff"/>
<rect x="878.8" y="759.68" width="42.0" height="31.37" fill="#0008ff"/>
<rect x="878.8" y="790.75" width="42.0" height="31.37" fill="#0000dc"/>
<rect x="878.8" y="821.83" width="42.0" height="31.37" fill="#0000ae"/>
<path d="M878.8 200.37H920.8M878.8 231.45H920.8M878.8 262.52H920.8M878.8 293.59H920.8M878.8 324.66H920.8M878.8 355.74H920.8M878.8 386.81H920.8M878.8 417.88H920.8M878.8 448.95H920.8M878.8 480.03H920.8M878.8 511.10H920.8M878.8 542.17H920.8M878.8 573.25H920.8M878.8 604.32H920.8M878.8 635.39H920.8M878.8 666.46H920.8M878.8 697.54H920.8M878.8 728.61H920.8M878.8 759.68H920.8M878.8 790.75H920.8M878.8 821.83H920.8" stroke="#000" stroke-width="0.8" fill="none" opacity="0.8"/>
<rect x="878.8" y="169.3" width="42.0" height="683.5999999999999" fill="none" stroke="#000" stroke-width="0.5" opacity="0.6"/>
<text x="960" y="211.9" font-size="32.3" text-anchor="middle">2</text>
<text x="960" y="274.0" font-size="32.3" text-anchor="middle">1.6</text>
<text x="960" y="336.2" font-size="32.3" text-anchor="middle">1.2</text>
<text x="960" y="398.3" font-size="32.3" text-anchor="middle">0.8</text>
<text x="960" y="460.5" font-size="32.3" text-anchor="middle">0.4</text>
<text x="960" y="522.6" font-size="32.3" text-anchor="middle">0</text>
<text x="960" y="584.7" font-size="32.3" text-anchor="middle">-0.4</text>
<text x="960" y="646.9" font-size="32.3" text-anchor="middle">-0.8</text>
<text x="960" y="709.0" font-size="32.3" text-anchor="middle">-1.2</text>
<text x="960" y="771.2" font-size="32.3" text-anchor="middle">-1.6</text>
<text x="960" y="833.3" font-size="32.3" text-anchor="middle">-2</text>
</svg></body></html>
